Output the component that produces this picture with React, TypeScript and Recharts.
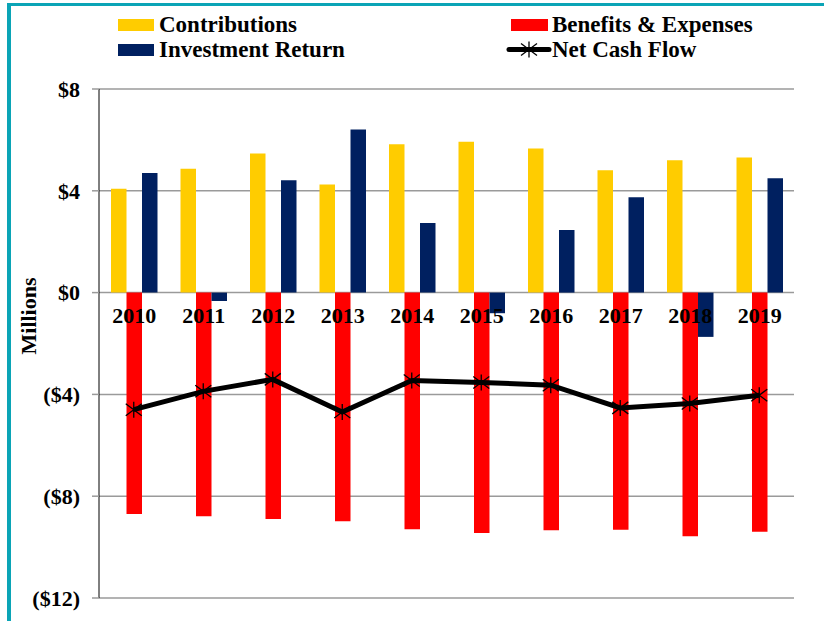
import React from 'react';
import {
  Bar,
  CartesianGrid,
  ComposedChart,
  LabelList,
  Line,
  XAxis,
  YAxis,
} from 'recharts';

const years = ['2010', '2011', '2012', '2013', '2014', '2015', '2016', '2017', '2018', '2019'];
const contributions = [4.08, 4.87, 5.47, 4.25, 5.83, 5.93, 5.66, 4.81, 5.2, 5.31];
const benefits = [-8.7, -8.79, -8.9, -8.98, -9.3, -9.45, -9.34, -9.32, -9.57, -9.4];
const investment = [4.7, -0.33, 4.41, 6.41, 2.73, -0.81, 2.46, 3.75, -1.74, 4.49];
const netCashFlow = [-4.6, -3.88, -3.41, -4.69, -3.45, -3.53, -3.64, -4.53, -4.36, -4.03];
const yTicks = [-12, -8, -4, 0, 4, 8];

const FONT = '"Liberation Serif", "Times New Roman", serif';
const YELLOW = '#FFCC00';
const RED = '#FF0000';
const NAVY = '#002060';
const TEAL = '#0AA4B6';

const data = years.map((year, i) => ({
  year,
  contributions: contributions[i],
  benefits: benefits[i],
  investment: investment[i],
  net: netCashFlow[i],
}));

function formatMoney(v: number) {
  return v < 0 ? `($${-v})` : `$${v}`;
}

function StarDot(props: { cx?: number; cy?: number; index?: number }) {
  const { cx, cy, index } = props;
  if (cx == null || cy == null) return null;
  const r = 8;
  return (
    <path
      key={`star-${index}`}
      d={`M${cx - r},${cy - r * 0.75}L${cx + r},${cy + r * 0.75}M${cx + r},${cy - r * 0.75}L${cx - r},${cy + r * 0.75}M${cx},${cy - r}L${cx},${cy + r}`}
      stroke="#000"
      strokeWidth={1.3}
      fill="none"
    />
  );
}

// year labels sit on the zero line, under the middle (red) bar
function YearLabel(props: any) {
  const vb = props.viewBox ?? props;
  const x = vb.x + vb.width / 2;
  const top = Math.min(vb.y, vb.y + vb.height);
  return (
    <text
      x={x}
      y={top + 30}
      textAnchor="middle"
      fontFamily={FONT}
      fontWeight="bold"
      fontSize={22}
      fill="#000"
    >
      {props.value}
    </text>
  );
}

function LegendOverlay() {
  const textStyle = { fontFamily: FONT, fontWeight: 'bold' as const, fontSize: 23, fill: '#000' };
  return (
    <svg width={824} height={70} style={{ position: 'absolute', left: 0, top: 0 }}>
      <rect x={118} y={19} width={36} height={12} fill={YELLOW} />
      <text x={159} y={32} {...textStyle}>Contributions</text>
      <rect x={118} y={44} width={36} height={12} fill={NAVY} />
      <text x={159} y={57} {...textStyle}>Investment Return</text>
      <rect x={511} y={19} width={37} height={12} fill={RED} />
      <text x={552} y={32} {...textStyle}>Benefits &amp; Expenses</text>
      <line x1={509} y1={49.5} x2={549} y2={49.5} stroke="#000" strokeWidth={5} strokeLinecap="round" />
      <StarDot cx={529} cy={49.5} index={99} />
      <text x={552} y={57} {...textStyle}>Net Cash Flow</text>
    </svg>
  );
}

export default function App() {
  return (
    <div style={{ position: 'relative', width: 824, height: 621, overflow: 'hidden', background: '#fff' }}>
      <style>{'body{margin:0}'}</style>
      <div
        style={{
          position: 'absolute',
          left: 7,
          top: 3,
          width: 900,
          height: 700,
          borderTop: `3.5px solid ${TEAL}`,
          borderLeft: `4px solid ${TEAL}`,
        }}
      />
      <ComposedChart
        width={824}
        height={621}
        data={data}
        margin={{ top: 89, right: 30, bottom: 23, left: 0 }}
        barGap={0}
        barSize={15.5}
        style={{ position: 'absolute', left: 0, top: 0 }}
      >
        <CartesianGrid vertical={false} stroke="#9a9a9a" strokeWidth={1.5} />
        <XAxis dataKey="year" hide />
        <YAxis
          width={99}
          domain={[-12, 8]}
          ticks={yTicks}
          interval={0}
          tickFormatter={formatMoney}
          axisLine={{ stroke: '#000', strokeWidth: 1 }}
          tickLine={{ stroke: '#9a9a9a', strokeWidth: 1.5 }}
          tickSize={7}
          tickMargin={12}
          tick={{ fill: '#000', fontFamily: FONT, fontWeight: 'bold', fontSize: 22 }}
          label={() => (
            <text
              x={36}
              y={316}
              transform="rotate(-90 36 316)"
              textAnchor="middle"
              fontFamily={FONT}
              fontWeight="bold"
              fontSize={22}
              fill="#000"
            >
              Millions
            </text>
          )}
        />
        <Bar dataKey="contributions" fill={YELLOW} isAnimationActive={false} />
        <Bar dataKey="benefits" fill={RED} isAnimationActive={false}>
          <LabelList dataKey="year" content={YearLabel} />
        </Bar>
        <Bar dataKey="investment" fill={NAVY} isAnimationActive={false} />
        <Line
          dataKey="net"
          type="linear"
          stroke="#000"
          strokeWidth={5}
          dot={<StarDot />}
          activeDot={false}
          isAnimationActive={false}
        />
      </ComposedChart>
      <LegendOverlay />
    </div>
  );
}
